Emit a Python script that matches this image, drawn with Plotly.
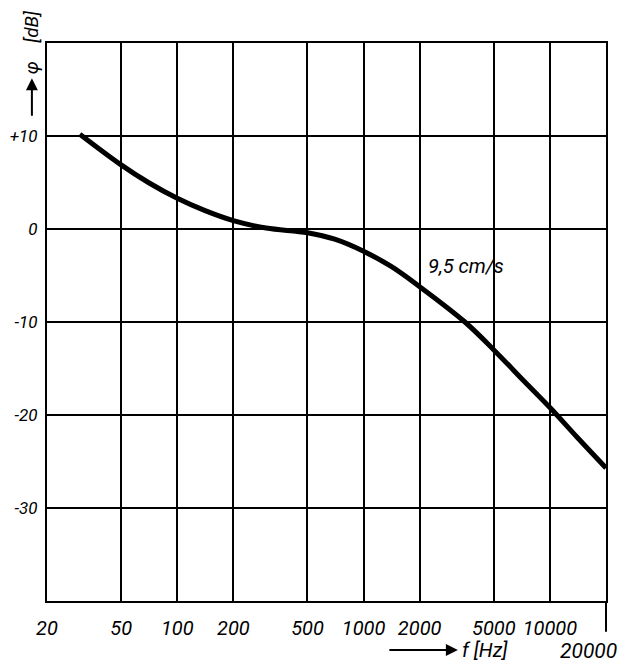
import numpy as np
import plotly.graph_objects as go

# ---- data ----
freq_hz = [30, 50, 70, 100, 140, 200, 300, 500, 700, 1000, 1400, 2000,
           3500, 5000, 7300, 10000, 14000, 20000]
level_db = [10.2, 6.9, 5.0, 3.3, 2.0, 0.9, 0.1, -0.4, -1.1, -2.4, -4.0, -6.2,
            -10.0, -13.0, -16.4, -19.2, -22.4, -25.7]

x_ticks = [20, 50, 100, 200, 500, 1000, 2000, 5000, 10000, 20000]
x_ticklabels = ["20", "50", "100", "200", "500", "1000", "2000", "5000", "10000", ""]
y_ticks = [10, 0, -10, -20, -30]
y_ticklabels = ["+10", "0", "-10", "-20", "-30"]
curve_label = "9,5 cm/s"

FONT = "Roboto, DejaVu Sans, sans-serif"

fig = go.Figure()
fig.add_trace(go.Scatter(
    x=freq_hz, y=level_db, mode="lines",
    line=dict(color="black", width=5, shape="spline", smoothing=1.0),
    showlegend=False, hoverinfo="skip"))

# page body has an 8px margin, so the figure is sized/offset to compensate
fig.update_layout(
    width=618, height=658,
    margin=dict(l=39, r=20, t=35, b=65),
    paper_bgcolor="white", plot_bgcolor="white",
    font=dict(family=FONT, color="black", size=19, style="italic"),
    xaxis=dict(
        type="log", range=[np.log10(20), np.log10(20000)],
        tickvals=x_ticks, ticktext=x_ticklabels,
        showgrid=True, gridcolor="black", gridwidth=1.5,
        showline=True, mirror=True, linecolor="black", linewidth=2,
        zeroline=False, ticks="", ticklabelstandoff=8, automargin=False,
        tickfont=dict(family=FONT, size=20, style="italic", color="black"),
    ),
    yaxis=dict(
        range=[-40, 20],
        tickvals=y_ticks, ticktext=y_ticklabels,
        showgrid=True, gridcolor="black", gridwidth=1.5,
        showline=True, mirror=True, linecolor="black", linewidth=2,
        zeroline=False, ticks="", ticklabelstandoff=4, automargin=False,
        tickfont=dict(family=FONT, size=17, style="italic", color="black"),
    ),
)

# right border extended below plot as tick for 20000
fig.add_shape(type="line", xref="paper", yref="paper",
              x0=1, x1=1, y0=0, y1=-0.055,
              line=dict(color="black", width=2))

annos = [
    dict(text="20000", x=1.024, y=-0.09, xref="paper", yref="paper",
         xanchor="right", yanchor="middle", showarrow=False,
         font=dict(family=FONT, size=21, style="italic")),
    dict(text="f [Hz]", x=0.738, y=-0.088, xref="paper", yref="paper",
         xanchor="left", yanchor="middle", showarrow=False,
         font=dict(family=FONT, size=20, style="italic")),
    dict(text="", x=0.735, y=-0.088, xref="paper", yref="paper",
         ax=-70, ay=0, showarrow=True, arrowhead=2, arrowsize=1.2,
         arrowwidth=2, arrowcolor="black"),
    dict(text="φ    [dB]", x=-0.027, y=1.001, xref="paper", yref="paper",
         textangle=-90, xanchor="center", yanchor="middle", showarrow=False,
         font=dict(family=FONT, size=19, style="italic")),
    dict(text="", x=-0.027, y=0.937, xref="paper", yref="paper",
         ax=0, ay=39, showarrow=True, arrowhead=2, arrowsize=1.2,
         arrowwidth=2, arrowcolor="black"),
    dict(text=curve_label, x=np.log10(2150), y=-4.0, xref="x", yref="y",
         xanchor="left", yanchor="middle", showarrow=False,
         font=dict(family=FONT, size=20, style="italic")),
]
fig.update_layout(annotations=annos)

fig.write_html("out.html")
